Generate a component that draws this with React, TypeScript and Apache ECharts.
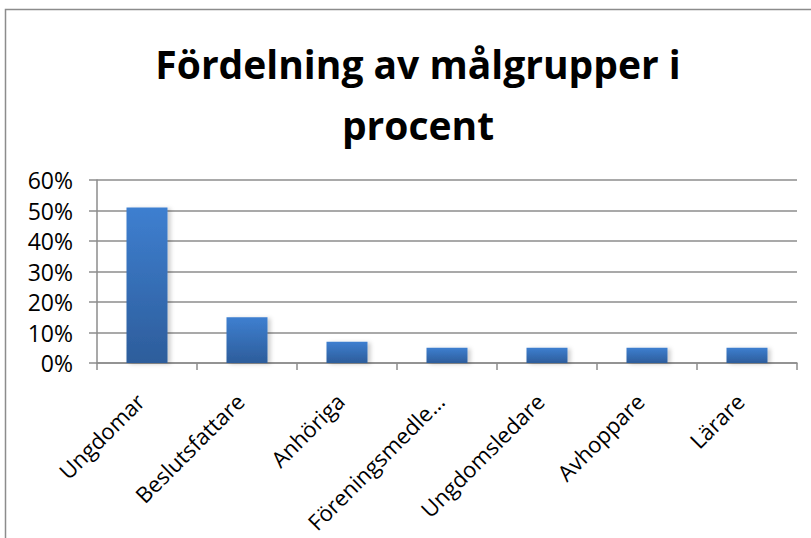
import React, { useEffect, useRef } from "react";
import * as echarts from "echarts";

const categories = ["Ungdomar", "Beslutsfattare", "Anhöriga", "Föreningsmedlemmar", "Ungdomsledare", "Avhoppare", "Lärare"];
const values = [0.51, 0.15, 0.07, 0.05, 0.05, 0.05, 0.05];
const yTicks = [0, 0.1, 0.2, 0.3, 0.4, 0.5, 0.6];
const titleText = "Fördelning av målgrupper i\nprocent";

export default function App() {
  const ref = useRef<HTMLDivElement>(null);
  useEffect(() => {
    const chart = echarts.init(ref.current!, null, { renderer: "svg" });
    const font = "Open Sans";
    chart.setOption({
      animation: false,
      backgroundColor: "#ffffff",
      title: {
        text: titleText,
        left: 413,
        top: 28,
        textAlign: "center",
        textStyle: { fontFamily: font, fontWeight: "bold", fontSize: 39, lineHeight: 61, color: "#000" },
      },
      graphic: [
        {
          type: "rect",
          shape: { x: 5.5, y: 9.5, width: 900, height: 700 },
          style: { fill: "none", stroke: "#8c8c8c", lineWidth: 1.5 },
          silent: true,
        },
      ],
      grid: { left: 97, top: 180, right: 14, bottom: 175, containLabel: false },
      xAxis: {
        type: "category",
        data: categories,
        axisLine: { lineStyle: { color: "#8c8c8c", width: 1.5 } },
        axisTick: { show: true, length: 7, lineStyle: { color: "#8c8c8c", width: 1.5 } },
        axisLabel: {
          rotate: 45,
          interval: 0,
          margin: 27,
          padding: [0, 10, 0, 0],
          fontFamily: font,
          fontSize: 22,
          color: "#000",
          formatter: (v: string) => (v.length > 14 ? v.slice(0, 14) + "…" : v),
        },
      },
      yAxis: {
        type: "value",
        min: 0,
        max: 0.6,
        interval: 0.1,
        axisLine: { show: true, lineStyle: { color: "#8c8c8c", width: 1.5 } },
        axisTick: { show: true, length: 8, lineStyle: { color: "#8c8c8c", width: 1.5 } },
        splitLine: { lineStyle: { color: "#8c8c8c", width: 1.5 } },
        axisLabel: {
          margin: 24,
          fontFamily: font,
          fontSize: 23,
          color: "#000",
          formatter: (v: number) => (yTicks.some((t) => Math.abs(t - v) < 1e-9) ? Math.round(v * 100) + "%" : ""),
        },
      },
      series: [
        {
          type: "bar",
          data: values,
          barWidth: "41%",
          itemStyle: {
            color: new echarts.graphic.LinearGradient(0, 0, 0, 1, [
              { offset: 0, color: "#3e7fd0" },
              { offset: 1, color: "#2d5d9b" },
            ]),
            shadowBlur: 4,
            shadowOffsetX: 3,
            shadowOffsetY: 1,
            shadowColor: "rgba(0,0,0,0.2)",
          },
        },
      ],
    });
    return () => chart.dispose();
  }, []);
  return <div ref={ref} style={{ position: "fixed", left: 0, top: 0, width: 811, height: 538 }} />;
}
